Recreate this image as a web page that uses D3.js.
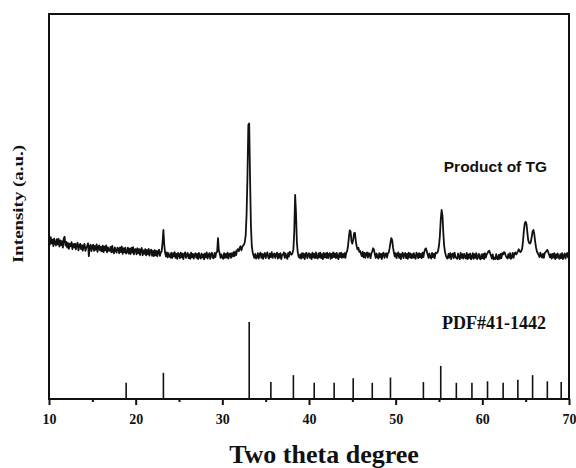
<!DOCTYPE html>
<html>
<head>
<meta charset="utf-8">
<script src="https://cdn.jsdelivr.net/npm/d3@7"></script>
<style>
  html, body { margin: 0; padding: 0; background: #fff; }
  svg { display: block; }
</style>
</head>
<body>
<svg id="chart" width="576" height="468"></svg>
<script>
// Measured XRD pattern of the TG product, 2θ = 10.0° … 70.0° in 0.1° steps (counts, a.u.)
const twoThetaStart = 10.0;
const twoThetaStep = 0.1;
const sampleCounts = [
  215,170,222,180,205,160,212,178,165,208,   // 10
  172,210,158,200,168,195,150,214,225,165,   // 11
  190,150,182,142,178,160,188,140,175,152,   // 12
  178,138,170,184,132,165,176,140,168,130,   // 13
  165,175,128,150,160,180,92,162,170,126,    // 14
  158,170,128,162,135,172,122,155,166,130,   // 15
  156,125,164,120,158,132,166,118,152,128,   // 16
  128,156,118,162,124,112,152,130,116,150,   // 17
  145,112,152,120,158,108,146,118,150,110,   // 18
  120,150,110,144,106,148,116,154,104,138,   // 19
  140,104,146,112,140,100,136,148,98,132,    // 20
  108,140,98,134,104,142,96,130,136,94,      // 21
  128,92,134,98,128,90,124,136,94,118,       // 22
  125,185,271,170,115,90,118,84,112,92,      // 23
  82,114,78,112,90,120,80,108,74,114,        // 24
  104,78,116,84,110,72,106,118,80,102,       // 25
  114,78,104,74,116,84,108,76,102,112,       // 26
  80,108,72,114,88,76,110,82,104,70,         // 27
  110,84,118,76,102,112,74,106,116,80,       // 28
  78,112,86,118,120,216,130,110,80,104,      // 29
  84,74,112,80,108,82,116,76,106,110,        // 30
  80,112,90,120,92,124,100,132,140,126,      // 31
  148,160,132,154,164,172,190,240,380,640,   // 32
  990,1000,620,300,160,118,96,80,108,76,     // 33
  84,112,76,104,116,80,108,74,102,114,       // 34
  78,106,118,82,76,110,86,120,80,104,        // 35
  110,80,104,116,76,108,82,112,72,100,       // 36
  104,118,80,110,86,74,114,90,122,108,       // 37
  102,115,140,260,511,390,190,120,90,80,     // 38
  104,76,112,82,110,72,106,116,78,102,       // 39
  112,80,106,72,116,84,108,78,118,82,        // 40
  76,112,84,116,78,106,72,114,84,110,        // 41
  80,116,78,106,112,74,108,80,118,86,        // 42
  110,78,114,84,72,112,86,116,80,108,        // 43
  84,112,80,116,125,160,220,268,262,195,     // 44
  178,205,248,252,195,160,138,150,122,128,   // 45
  108,92,122,84,114,80,110,118,82,112,       // 46
  106,78,112,125,146,135,104,80,110,86,      // 47
  76,112,84,108,72,110,116,80,104,112,       // 48
  82,110,118,145,185,216,200,150,115,90,     // 49
  112,78,106,118,80,108,72,102,116,78,       // 50
  104,114,78,108,74,116,84,110,78,106,       // 51
  80,112,86,74,116,104,78,112,84,108,        // 52
  78,116,86,120,140,146,122,100,80,110,      // 53
  84,76,114,86,108,78,116,112,115,130,       // 54
  165,230,340,408,370,250,160,118,96,80,     // 55
  76,108,82,112,72,104,110,78,116,86,        // 56
  80,74,110,84,72,114,80,106,76,108,         // 57
  86,76,114,72,104,80,110,70,84,112,         // 58
  74,106,80,112,72,84,108,78,70,104,         // 59
  78,108,72,112,82,104,112,125,129,112,      // 60
  96,76,104,70,82,72,106,76,70,100,          // 61
  74,108,78,112,104,120,116,94,84,76,        // 62
  106,80,112,74,86,114,80,108,118,104,       // 63
  112,125,139,126,120,128,145,200,270,318,   // 64
  328,310,250,200,182,178,190,225,262,271,   // 65
  240,190,150,124,112,100,86,116,96,82,      // 66
  108,80,114,118,128,135,120,102,84,106,     // 67
  76,108,82,112,72,104,80,110,86,74,         // 68
  106,78,112,72,96,110,76,104,114,82,        // 69
  90                                          // 70
];

// Reference card PDF#41-1442: line positions (2θ) and relative intensities (I/I0)
const refTwoTheta = [18.9, 23.2, 33.1, 35.6, 38.2, 40.6, 42.9, 45.1, 47.3, 49.4,
                     53.2, 55.2, 57.0, 58.8, 60.6, 62.4, 64.1, 65.8, 67.5, 69.1];
const refIntensity = [21, 34, 100, 22, 31, 21, 21, 27, 21, 28,
                      22, 43, 21, 21, 23, 21, 25, 31, 23, 22];

const xMajorTicks = [10, 20, 30, 40, 50, 60, 70];
const xMinorTicks = [15, 25, 35, 45, 55, 65];

const sampleLabel = "Product of TG";
const refLabel = "PDF#41-1442";
const xTitle = "Two theta degree";
const yTitle = "Intensity (a.u.)";

// ---- layout ----
const W = 576, H = 468;
const margin = { top: 14, right: 7, bottom: 69, left: 49 };
const w = W - margin.left - margin.right;
const h = H - margin.top - margin.bottom;

const svg = d3.select("#chart");
const g = svg.append("g").attr("transform", `translate(${margin.left},${margin.top})`);

const x = d3.scaleLinear().domain([10, 70]).range([0, w]);
// stacked patterns: measured pattern in the upper part, reference sticks on the baseline
const ySample = d3.scaleLinear().domain([0, 1000]).range([255.6, 109.5]);
const yRef = d3.scaleLinear().domain([0, 100]).range([h, h - 77]);

const sample = sampleCounts.map((c, i) => ({ t: twoThetaStart + i * twoThetaStep, c }));
const ref = refTwoTheta.map((t, i) => ({ t, I: refIntensity[i] }));

// measured pattern
g.append("path")
  .datum(sample)
  .attr("fill", "none")
  .attr("stroke", "#111")
  .attr("stroke-width", 1.8)
  .attr("stroke-linejoin", "round")
  .attr("d", d3.line().x(d => x(d.t)).y(d => ySample(d.c)));

// reference sticks
g.append("g").selectAll("line")
  .data(ref)
  .join("line")
  .attr("x1", d => x(d.t)).attr("x2", d => x(d.t))
  .attr("y1", yRef(0)).attr("y2", d => yRef(d.I))
  .attr("stroke", "#111")
  .attr("stroke-width", 1.6);

// bottom axis: major + minor ticks pointing out
const axisG = g.append("g").attr("transform", `translate(0,${h})`)
  .call(d3.axisBottom(x).tickValues(xMajorTicks).tickSize(6).tickSizeOuter(0).tickPadding(9)
        .tickFormat(d3.format("d")));
axisG.select(".domain").remove();
axisG.selectAll(".tick line").attr("stroke", "#111").attr("stroke-width", 2);
axisG.selectAll(".tick text")
  .attr("fill", "#111")
  .style("font-family", "'Liberation Serif', 'Times New Roman', serif")
  .style("font-weight", "bold")
  .style("font-size", "14px");

const minorG = g.append("g").attr("transform", `translate(0,${h})`)
  .call(d3.axisBottom(x).tickValues(xMinorTicks).tickSize(3).tickSizeOuter(0).tickFormat(""));
minorG.select(".domain").remove();
minorG.selectAll(".tick line").attr("stroke", "#111").attr("stroke-width", 2);

// frame
g.append("rect")
  .attr("x", 0).attr("y", 0).attr("width", w).attr("height", h)
  .attr("fill", "none").attr("stroke", "#111").attr("stroke-width", 2);

// series labels
g.append("text")
  .attr("x", x(55.55)).attr("y", 157.5)
  .style("font-family", "'Liberation Sans', Arial, sans-serif")
  .style("font-weight", "bold").style("font-size", "15.5px")
  .attr("fill", "#111")
  .text(sampleLabel);

g.append("text")
  .attr("x", x(55.35)).attr("y", 315)
  .style("font-family", "'Liberation Serif', 'Times New Roman', serif")
  .style("font-weight", "bold").style("font-size", "18px")
  .attr("fill", "#111")
  .text(refLabel);

// axis titles
svg.append("text")
  .attr("x", 324).attr("y", 463)
  .attr("text-anchor", "middle")
  .style("font-family", "'Liberation Serif', 'Times New Roman', serif")
  .style("font-weight", "bold").style("font-size", "26px")
  .attr("fill", "#111")
  .text(xTitle);

svg.append("text")
  .attr("transform", "translate(23,204) rotate(-90)")
  .attr("text-anchor", "middle")
  .attr("textLength", 118).attr("lengthAdjust", "spacingAndGlyphs")
  .style("font-family", "'Liberation Serif', 'Times New Roman', serif")
  .style("font-weight", "bold").style("font-size", "14px")
  .attr("fill", "#111")
  .text(yTitle);
</script>
</body>
</html>
